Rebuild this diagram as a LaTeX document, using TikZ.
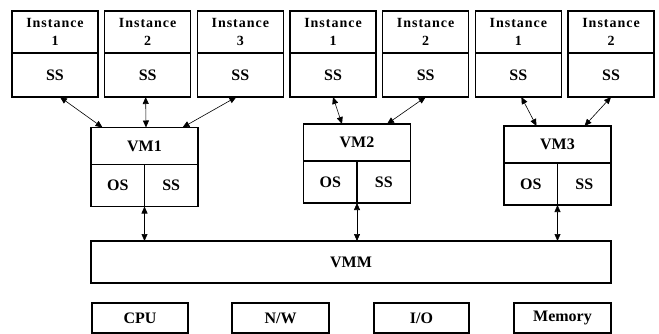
\documentclass[tikz,border=0pt]{standalone}
\usepackage{fontspec}
\setmainfont{Liberation Serif}
\usetikzlibrary{calc, positioning, arrows.meta}

\begin{document}
\begin{tikzpicture}[x=1pt, y=-1pt,
    box/.style={draw, line width=1.2pt, inner sep=0pt, outer sep=0pt,
        font=\fontsize{16}{18}\selectfont\bfseries},
    inst/.style={box, minimum width=86, minimum height=42, align=center,
        font=\fontsize{14}{18}\selectfont\bfseries\addfontfeature{LetterSpace=7}},
    ssbox/.style={box, minimum width=86, minimum height=44},
    vmbox/.style={box, minimum width=107, minimum height=37},
    half/.style={box, minimum width=53.5, minimum height=42},
    hw/.style={box, minimum height=30},
    link/.style={<->, >={Triangle[length=7pt,width=6pt]}, line width=0.6pt}]
    \useasboundingbox (0,0) rectangle (659,334);

    % Instances and their SS
    \foreach \n/\lab [count=\i from 0] in {1/1,2/2,3/3,4/1,5/2,6/1,7/2} {
        \node[inst] (in\n) at ({55+92.67*\i},32) {Instance\\\lab};
        \node[ssbox, below=0pt of in\n] (ss\n) {SS};
    }

    % Virtual machines
    \foreach \n/\x/\y in {1/144.5/146, 2/357/142.5, 3/557.5/144.5} {
        \node[vmbox] (vm\n) at (\x,\y) {VM\n};
        \node[half, anchor=north east] (os\n) at (vm\n.south) {OS};
        \node[half, anchor=north west] (sv\n) at (vm\n.south) {SS};
    }

    % Monitor
    \node[box, minimum width=520, minimum height=42] (vmm) at (351,262) {VMM};

    % Hardware
    \node[hw, minimum width=96] (cpu) at (140,318) {CPU};
    \node[hw, minimum width=97] (nw) at (280.5,318) {N/W};
    \node[hw, minimum width=95] (io) at (421.5,318) {I/O};
    \node[hw, minimum width=97] (mem) at (562.5,318) {Memory};

    % Links
    \draw[link] ([xshift=5]ss1.south) -- ([xshift=-42]vm1.north);
    \draw[link] ([xshift=-2]ss2.south) -- ([xshift=1.5]vm1.north);
    \draw[link] ([xshift=-4]ss3.south) -- ([xshift=38]vm1.north);
    \draw[link] (ss4.south) -- ([xshift=-15]vm2.north);
    \draw[link] (ss5.south) -- ([xshift=30]vm2.north);
    \draw[link] ([xshift=3]ss6.south) -- ([xshift=-21]vm3.north);
    \draw[link] (ss7.south) -- ([xshift=27]vm3.north);
    \foreach \n in {1,2,3}
        \draw[link] (os\n.south east) -- (os\n.south east |- vmm.north);
\end{tikzpicture}
\end{document}
